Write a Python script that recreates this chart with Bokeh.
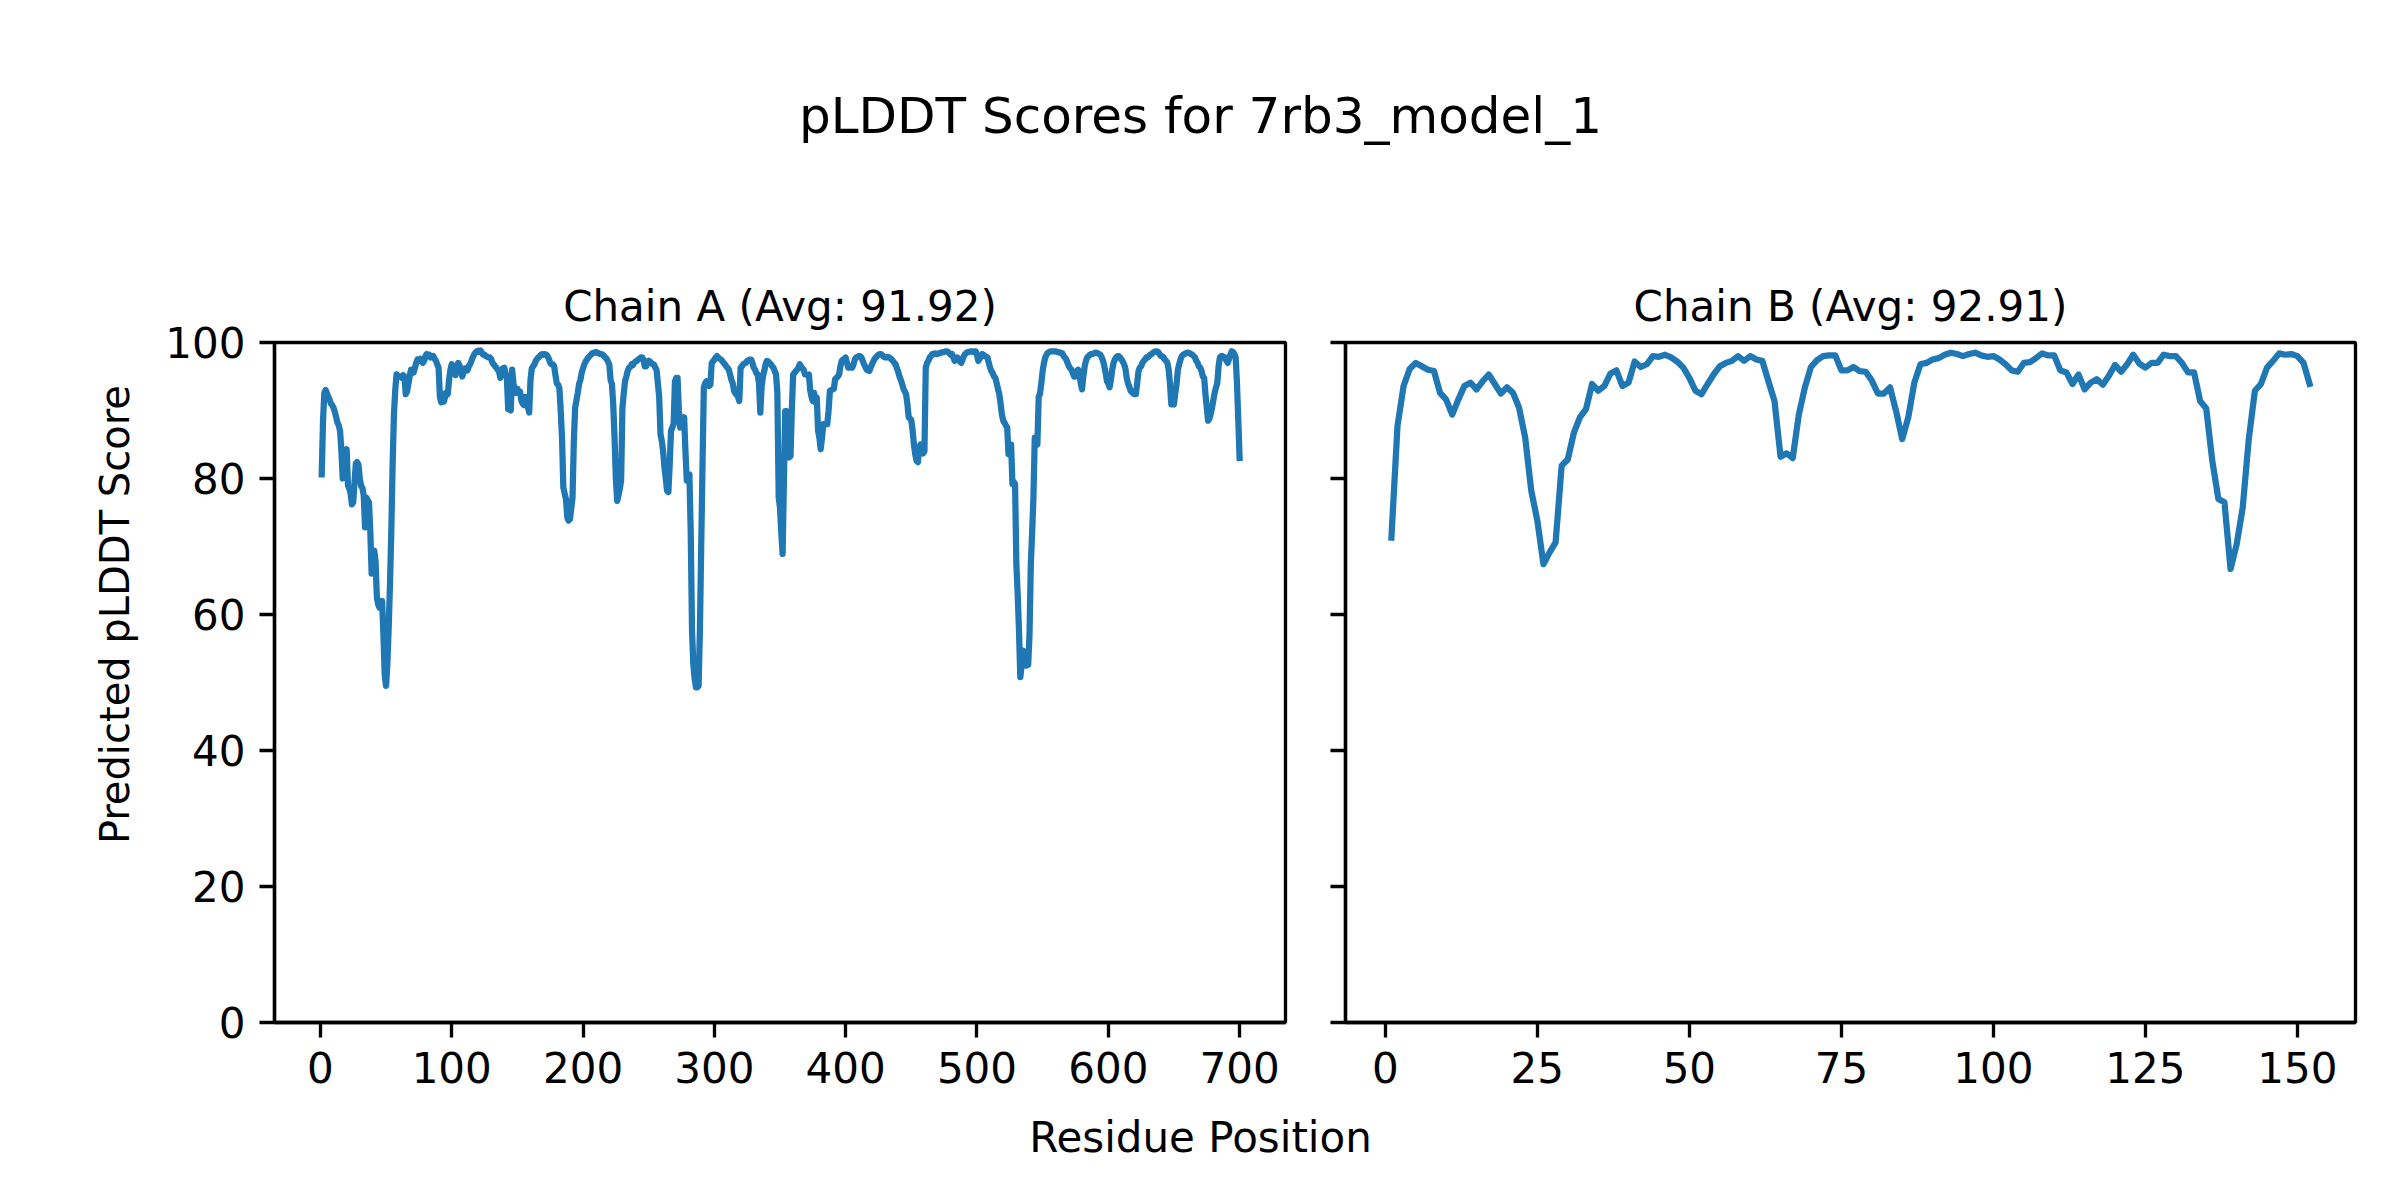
from bokeh.plotting import figure
from bokeh.layouts import column, row
from bokeh.models import Range1d, Label, FixedTicker
from bokeh.embed import file_html
from bokeh.resources import INLINE

# ---------------- data ----------------
suptitle = "pLDDT Scores for 7rb3_model_1"
title_a = "Chain A (Avg: 91.92)"
title_b = "Chain B (Avg: 92.91)"
xlabel = "Residue Position"
ylabel = "Predicted pLDDT Score"

xticks_a = [0, 100, 200, 300, 400, 500, 600, 700]
xticks_b = [0, 25, 50, 75, 100, 125, 150]
yticks = [0, 20, 40, 60, 80, 100]

plddt_a = [
    80.6, 88.5, 92.6, 93.0, 92.5, 92.0, 91.6, 91.0, 90.8, 90.4,
    89.8, 89.0, 88.2, 87.8, 87.0, 84.0, 80.0, 80.4, 83.5, 84.3,
    79.0, 78.5, 77.8, 76.2, 76.5, 79.5, 82.2, 82.4, 82.0, 80.0,
    78.9, 78.6, 77.5, 72.8, 77.2, 76.8, 76.5, 72.3, 66.0, 67.5,
    69.4, 67.9, 62.5, 61.5, 61.0, 61.5, 62.0, 57.0, 51.0, 49.5,
    52.7, 58.0, 64.5, 72.3, 82.0, 89.4, 93.0, 95.3, 95.1, 95.0,
    95.0, 94.8, 95.2, 95.0, 92.4, 92.8, 93.9, 95.0, 96.0, 95.8,
    95.6, 96.3, 97.0, 97.5, 97.4, 97.6, 97.2, 97.0, 97.3, 98.0,
    98.3, 98.0, 98.2, 97.8, 97.9, 98.0, 97.6, 97.3, 96.8, 96.3,
    92.0, 91.2, 92.5, 91.3, 92.0, 92.6, 92.4, 94.5, 96.0, 96.8,
    96.5, 96.2, 95.2, 96.5, 97.0, 96.6, 96.0, 95.0, 95.6, 96.2,
    96.0, 95.9, 96.5, 96.8, 97.3, 97.8, 98.2, 98.5, 98.7, 98.8,
    98.6, 98.8, 98.5, 98.2, 98.2, 98.0, 97.9, 97.8, 97.8, 97.6,
    97.0, 96.8, 96.5, 96.3, 96.0, 95.8, 94.8, 95.5, 96.2, 96.3,
    95.5, 94.8, 90.2, 91.0, 90.0, 96.0, 94.0, 93.0, 92.6, 93.2,
    92.6, 92.8, 91.5, 91.0, 90.8, 92.0, 91.5, 90.5, 89.7, 94.5,
    96.2, 96.5, 96.8, 97.3, 97.6, 97.8, 98.0, 98.2, 98.3, 98.2,
    98.3, 98.2, 98.0, 97.6, 97.0, 96.8, 96.8, 96.5, 95.2, 94.0,
    93.8, 93.3, 90.0, 86.0, 78.7, 77.8, 77.0, 74.3, 73.8, 74.0,
    75.5, 77.2, 85.5, 90.4, 91.5, 92.6, 93.9, 94.5, 95.6, 96.2,
    96.8, 97.2, 97.5, 97.8, 98.0, 98.2, 98.4, 98.5, 98.5, 98.6,
    98.5, 98.4, 98.3, 98.3, 98.2, 98.0, 97.8, 97.6, 97.2, 96.8,
    94.5, 93.9, 90.9, 86.0, 80.0, 76.7, 77.5, 78.5, 79.7, 90.4,
    92.5, 94.3, 95.0, 95.8, 96.3, 96.4, 96.8, 96.7, 97.0, 97.2,
    97.3, 97.5, 97.6, 97.8, 97.8, 97.5, 96.5, 96.5, 97.0, 97.3,
    97.2, 97.0, 96.8, 96.8, 96.3, 96.0, 94.0, 92.0, 86.5, 85.5,
    84.0, 81.6, 80.0, 78.2, 78.0, 82.0, 87.0, 87.5, 88.0, 94.3,
    94.8, 94.8, 90.0, 87.5, 87.8, 88.5, 89.0, 84.0, 79.7, 80.2,
    80.6, 72.3, 57.6, 52.7, 50.5, 49.3, 49.3, 49.5, 57.6, 70.0,
    82.0, 93.4, 94.0, 94.3, 93.8, 93.6, 93.8, 97.0, 97.2, 97.5,
    97.8, 98.0, 97.8, 97.6, 97.5, 97.3, 97.0, 96.8, 96.5, 96.3,
    96.0, 95.3, 94.5, 94.0, 92.9, 92.5, 92.3, 92.0, 91.4, 96.3,
    96.5, 96.8, 96.9, 97.0, 97.3, 97.4, 97.5, 97.5, 97.0, 96.3,
    96.0, 95.5, 95.3, 94.0, 89.7, 93.5, 95.0, 95.8, 96.8, 97.3,
    97.2, 97.0, 96.8, 96.5, 96.3, 95.8, 95.3, 92.6, 77.2, 75.7,
    72.0, 68.9, 80.0, 89.9, 89.9, 86.0, 83.1, 83.3, 90.0, 95.3,
    95.5, 95.8, 96.0, 96.3, 96.8, 96.5, 96.2, 96.0, 95.3, 95.3,
    95.2, 95.3, 93.0, 92.0, 91.4, 92.6, 91.2, 91.9, 87.0, 86.0,
    84.3, 86.0, 88.0, 88.0, 88.0, 88.0, 90.0, 92.9, 93.0, 93.1,
    93.2, 94.6, 94.8, 95.0, 95.3, 96.5, 97.3, 97.5, 97.6, 97.8,
    97.0, 96.3, 96.3, 96.4, 96.3, 96.8, 97.5, 97.8, 97.9, 98.0,
    98.0, 97.8, 97.3, 96.8, 96.4, 96.0, 95.9, 95.8, 96.3, 96.8,
    97.2, 97.6, 97.8, 98.0, 98.2, 98.3, 98.3, 98.1, 97.9, 97.8,
    97.8, 97.9, 97.8, 97.7, 97.5, 97.3, 97.0, 96.8, 96.2, 95.7,
    95.0, 94.5, 93.9, 93.2, 92.8, 92.4, 91.0, 89.0, 88.8, 88.6,
    87.0, 85.0, 83.5, 82.6, 82.4, 84.5, 85.0, 84.0, 83.7, 84.0,
    96.3, 97.0, 97.3, 97.8, 98.0, 98.3, 98.3, 98.4, 98.3, 98.3,
    98.4, 98.5, 98.5, 98.6, 98.6, 98.7, 98.7, 98.6, 98.4, 98.2,
    98.3, 97.8, 97.3, 97.6, 97.8, 97.5, 97.2, 97.0, 97.5, 98.0,
    98.3, 98.5, 98.6, 98.6, 98.7, 98.7, 98.6, 98.7, 98.7, 98.2,
    97.3, 97.6, 98.0, 98.3, 98.2, 98.0, 97.9, 97.8, 97.0, 96.3,
    95.8, 95.5, 95.0, 94.8, 94.0, 93.2, 92.4, 91.0, 89.4, 88.5,
    88.2, 87.8, 87.5, 83.6, 84.5, 85.0, 79.2, 79.5, 79.2, 67.4,
    63.0, 57.6, 50.8, 52.5, 54.7, 52.8, 52.5, 52.5, 52.6, 57.0,
    67.4, 72.0, 77.2, 86.0, 85.5, 85.0, 92.0, 92.5, 94.0, 95.8,
    97.0, 97.8, 98.2, 98.5, 98.6, 98.7, 98.7, 98.7, 98.7, 98.7,
    98.6, 98.6, 98.5, 98.5, 98.4, 98.0, 97.8, 97.5, 97.0, 96.5,
    96.2, 96.0, 95.5, 95.0, 95.0, 95.8, 96.0, 95.5, 94.0, 93.1,
    95.0, 96.5, 97.3, 97.8, 98.0, 98.2, 98.3, 98.3, 98.4, 98.5,
    98.5, 98.4, 98.3, 98.2, 97.8, 97.3, 96.5, 95.5, 94.3, 94.0,
    93.4, 94.5, 96.0, 97.0, 97.5, 97.8, 98.0, 98.0, 97.8, 97.5,
    97.2, 96.8, 96.2, 94.8, 94.0, 93.5, 92.9, 92.7, 92.5, 92.4,
    92.4, 94.0, 95.8, 96.3, 96.5, 97.0, 97.3, 97.5, 97.8, 97.8,
    98.0, 98.2, 98.3, 98.5, 98.6, 98.7, 98.7, 98.6, 98.3, 98.0,
    98.0, 97.8, 97.5, 97.3, 97.0, 96.0, 93.9, 90.9, 91.0, 90.9,
    92.5, 93.9, 96.0, 96.8, 97.5, 98.0, 98.2, 98.3, 98.4, 98.5,
    98.5, 98.4, 98.3, 98.2, 98.0, 97.8, 97.3, 97.0, 96.5, 96.3,
    95.8, 95.0, 94.8, 92.4, 90.4, 88.5, 88.8, 89.5, 90.4, 91.5,
    92.6, 93.4, 94.0, 96.5, 97.8, 98.0, 98.0, 97.8, 97.8, 97.3,
    97.0, 97.6, 98.2, 98.7, 98.6, 98.3, 97.8, 94.0, 88.5, 83.0,
]
residues_a = list(range(1, len(plddt_a) + 1))

plddt_b = [
    71.3, 87.7, 93.6, 96.1, 97.0, 96.5, 96.0, 95.8, 92.6, 91.6,
    89.4, 91.6, 93.6, 94.1, 93.1, 94.3, 95.3, 93.9, 92.5, 93.4,
    92.6, 90.4, 86.0, 78.2, 73.8, 67.4, 69.1, 70.6, 81.9, 82.8,
    86.7, 89.0, 90.2, 93.9, 92.9, 93.6, 95.4, 95.9, 93.6, 94.1,
    97.2, 96.4, 96.8, 98.0, 97.9, 98.2, 97.8, 97.2, 96.3, 94.8,
    92.9, 92.4, 93.9, 95.3, 96.5, 97.0, 97.3, 98.0, 97.3, 98.0,
    97.5, 97.3, 94.3, 91.4, 83.2, 83.7, 83.0, 89.4, 93.4, 96.4,
    97.4, 98.0, 98.1, 98.1, 95.9, 95.9, 96.4, 95.8, 95.7, 94.4,
    92.5, 92.5, 93.4, 89.9, 85.8, 89.0, 94.1, 96.8, 97.0, 97.5,
    97.7, 98.2, 98.5, 98.3, 98.0, 98.3, 98.5, 98.1, 97.9, 98.0,
    97.5, 96.8, 95.9, 95.7, 97.0, 97.1, 97.7, 98.4, 98.1, 98.1,
    95.9, 95.6, 93.9, 95.3, 93.1, 94.1, 94.6, 93.8, 95.1, 96.7,
    95.7, 96.8, 98.2, 96.9, 96.3, 97.0, 97.0, 98.2, 98.0, 98.0,
    97.0, 95.6, 95.6, 91.4, 90.3, 82.6, 77.0, 76.5, 66.7, 70.3,
    75.7, 85.8, 92.9, 93.9, 96.3, 97.3, 98.4, 98.2, 98.3, 98.0,
    97.0, 93.9,
]
residues_b = list(range(1, len(plddt_b) + 1))

# ---------------- style ----------------
FONT = "DejaVu Sans"
BLUE = "#1f77b4"
FS = "42px"
LW_AX = 3.33


def strip(w, h):
    p = figure(width=w, height=h, x_range=Range1d(0, w), y_range=Range1d(0, h),
               output_backend="svg", toolbar_location=None,
               x_axis_location=None, y_axis_location=None, min_border=0)
    p.outline_line_color = None
    p.grid.visible = False
    return p


def chain_fig(x, y, title, xr, xticks, frame_w, bl, br, show_ylab):
    p = figure(frame_width=frame_w, frame_height=680,
               x_range=Range1d(*xr), y_range=Range1d(0, 100),
               output_backend="svg", toolbar_location=None, title=title)
    p.min_border_left = bl
    p.min_border_right = br
    p.min_border_top = 164
    p.min_border_bottom = 88
    p.title.align = "center"
    p.title.text_font = FONT
    p.title.text_font_size = FS
    p.title.text_font_style = "normal"
    p.title.text_color = "black"
    p.title.standoff = 23
    p.line(x, y, line_color=BLUE, line_width=6.25, line_join="round", line_cap="square")
    p.grid.visible = False
    p.outline_line_color = "black"
    p.outline_line_width = LW_AX
    p.xaxis.ticker = FixedTicker(ticks=xticks)
    p.yaxis.ticker = FixedTicker(ticks=yticks)
    for ax in (p.xaxis[0], p.yaxis[0]):
        ax.axis_line_width = LW_AX
        ax.axis_line_color = "black"
        ax.major_tick_line_width = LW_AX
        ax.major_tick_line_color = "black"
        ax.major_tick_out = 15
        ax.major_tick_in = 0
        ax.minor_tick_line_color = None
        ax.major_label_text_font = FONT
        ax.major_label_text_font_size = FS
        ax.major_label_text_color = "black"
        ax.major_label_standoff = 14
    if not show_ylab:
        p.yaxis.major_label_overrides = {t: "" for t in yticks}
        p.yaxis.major_label_standoff = 0
    return p


W = 2392
top = strip(W, 178)
top.add_layout(Label(x=1200, y=63, text=suptitle, text_font=FONT, text_font_size="50px",
                     text_align="center", text_baseline="middle", text_color="black"))

left = strip(148, 932)
left.add_layout(Label(x=114, y=559, text=ylabel, angle=1.5707963, text_font=FONT,
                      text_font_size="40px", text_align="center", text_baseline="middle",
                      text_color="black"))

fa = chain_fig(residues_a, plddt_a, title_a, (-34.95, 734.95), xticks_a, 1011, 126, 10, True)
fb = chain_fig(residues_b, plddt_b, title_b, (-6.55, 159.55), xticks_b, 1010, 50, 37, False)

bottom = strip(W, 82)
bottom.add_layout(Label(x=1200, y=55, text=xlabel, text_font=FONT, text_font_size=FS,
                        text_align="center", text_baseline="middle", text_color="black"))

lay = column(top, row(left, fa, fb), bottom)
open("out.html", "w").write(file_html(lay, INLINE, title=suptitle))
